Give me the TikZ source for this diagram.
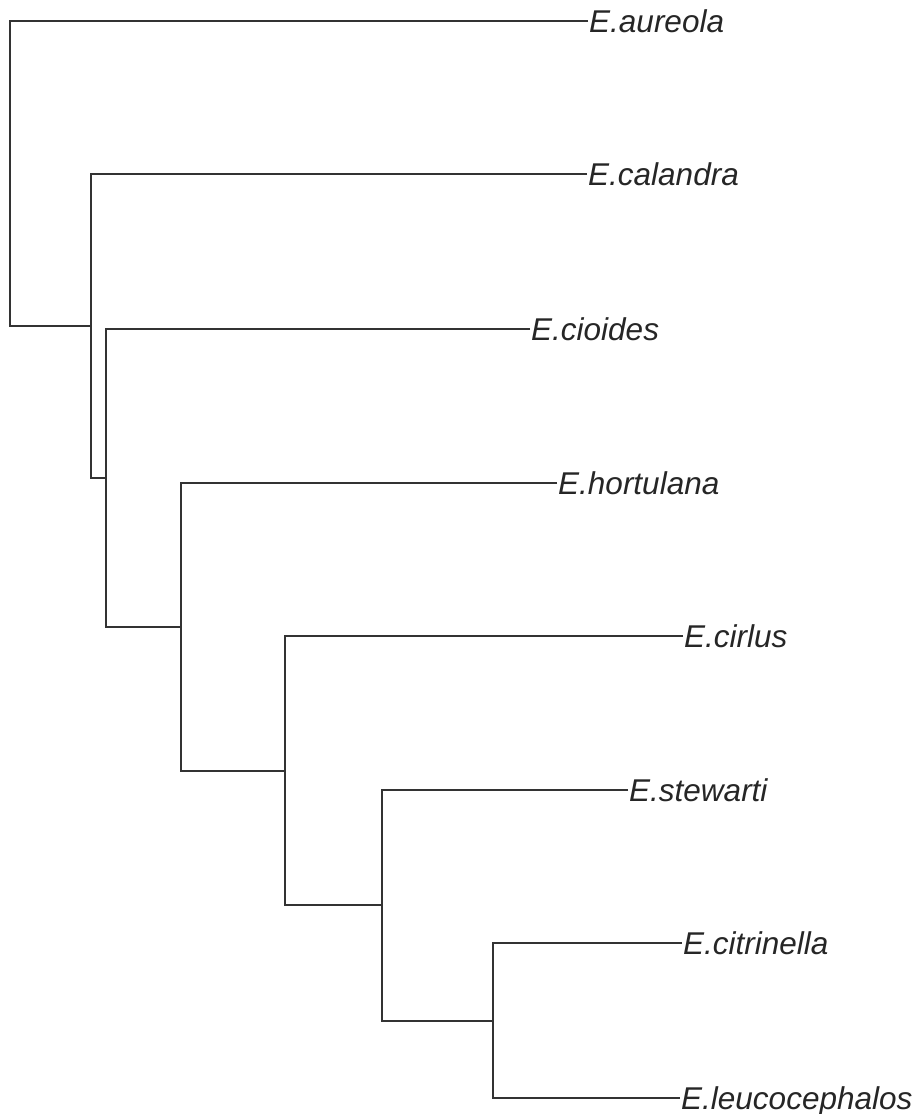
\documentclass[tikz,border=0pt]{standalone}
\usepackage{fontspec}
\setmainfont{Liberation Sans}
\begin{document}
\begin{tikzpicture}[x=1pt,y=-1pt,
  branch/.style={line width=1.4pt,color=black!80},
  taxon/.style={anchor=base west,inner sep=0pt,xshift=1pt,yshift=-11pt,
    text=black!85,font=\fontsize{31.5}{31.5}\selectfont\itshape}]
\useasboundingbox[fill=white] (0,0) rectangle (918,1114);
% internal nodes
\coordinate (r)  at (10,326);
\coordinate (nA) at (91,326);
\coordinate (nB) at (106,478);
\coordinate (nC) at (181,627);
\coordinate (nD) at (285,771);
\coordinate (nE) at (382,905);
\coordinate (nF) at (493,1021);
% tips
\coordinate (ta) at (588,21);
\coordinate (tb) at (587,174);
\coordinate (tc) at (530,329);
\coordinate (td) at (557,483);
\coordinate (te) at (683,636);
\coordinate (tf) at (628,790);
\coordinate (tg) at (682,943);
\coordinate (th) at (680,1098);
% branches
\draw[branch] (ta) -| (r) -- (nA);
\draw[branch] (tb) -| (nA) |- (nB);
\draw[branch] (tc) -| (nB) |- (nC);
\draw[branch] (td) -| (nC) |- (nD);
\draw[branch] (te) -| (nD) |- (nE);
\draw[branch] (tf) -| (nE) |- (nF);
\draw[branch] (tg) -| (nF) |- (th);
% labels
\node[taxon] (la) at (ta) {E.aureola};
\node[taxon] (lb) at (tb) {E.calandra};
\node[taxon] (lc) at (tc) {E.cioides};
\node[taxon] (ld) at (td) {E.hortulana};
\node[taxon] (le) at (te) {E.cirlus};
\node[taxon] (lf) at (tf) {E.stewarti};
\node[taxon] (lg) at (tg) {E.citrinella};
\node[taxon] (lh) at (th) {E.leucocephalos};
\end{tikzpicture}
\end{document}
